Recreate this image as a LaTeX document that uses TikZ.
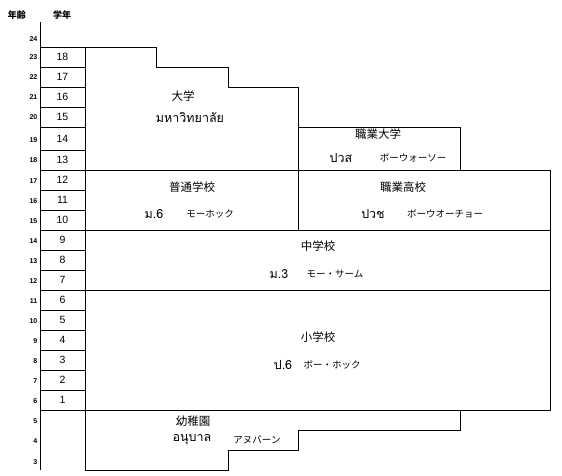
\documentclass[tikz,border=0pt]{standalone}
\usepackage{fontspec}
\setmainfont{Liberation Sans}
\newfontfamily\jpfont{Noto Sans CJK JP}
\newfontfamily\thaifont[Script=Thai]{Loma}
\begin{document}
\begin{tikzpicture}[x=1pt,y=-1pt,
  frame/.style={line width=0.9pt,black},
  age/.style={font=\fontsize{7}{8}\selectfont\bfseries,anchor=east,inner sep=0pt},
  grade/.style={font=\fontsize{10.5}{12}\selectfont,inner sep=0pt},
  head/.style={font=\jpfont\fontsize{9}{10}\selectfont\bfseries,inner sep=0pt},
  jp/.style={font=\jpfont\fontsize{11.5}{12}\selectfont,inner sep=0pt},
  kana/.style={font=\jpfont\fontsize{9.5}{10}\selectfont,inner sep=0pt},
  th/.style={font=\thaifont\fontsize{12.5}{14}\selectfont,inner sep=0pt}]
\useasboundingbox (0,0) rectangle (562,476);
% axis
\draw[frame] (40,22) -- (40,470);
% grade cells
\foreach \a/\b in {47/67,67/87,87/107,107/127,127/150,150/170,170/190,190/210,210/230,230/250,250/270,270/290,290/310,310/330,330/350,350/370,370/390,390/410}
  \draw[frame] (40,\a) rectangle (85,\b);
% university
\draw[frame] (85,47) -- (156,47) -- (156,67) -- (228,67) -- (228,87) -- (298,87) -- (298,170);
% vocational college
\draw[frame] (298,127) -- (460,127) -- (460,170);
% upper secondary and below
\draw[frame] (85,170) -- (550,170) -- (550,410) -- (85,410) -- (85,47);
\draw[frame] (298,170) -- (298,230);
\draw[frame] (85,230) -- (550,230);
\draw[frame] (85,290) -- (550,290);
% kindergarten
\draw[frame] (85,410) -- (85,470) -- (228,470) -- (228,450) -- (298,450) -- (298,430) -- (460,430) -- (460,410);
% headers
\node[head] (hage) at (17,15) {年齢};
\node[head] (hgr) at (62,15) {学年};
% ages
\foreach \n/\y in {24/39,23/57,22/77,21/97,20/117,19/140,18/160,17/181,16/201,15/221,14/241,13/261,12/281,11/301,10/321,9/341,8/361,7/381,6/401,5/421,4/441,3/462}
  \node[age] (age\n) at (37.5,\y) {\n};
% grades
\foreach \n/\y in {18/57,17/77,16/97,15/117,14/139,13/160,12/180,11/200,10/220,9/240,8/260,7/280,6/300,5/320,4/340,3/360,2/380,1/400}
  \node[grade] (g\n) at (62.5,\y) {\n};
% labels
\node[jp] (uni) at (183,96) {大学};
\node[th] (unith) at (190,118) {มหาวิทยาลัย};
\node[jp] (vc) at (378,134) {職業大学};
\node[th] (vcth) at (341,158) {ปวส};
\node[kana] (vckana) at (413,158) {ボーウォーソー};
\node[jp] (hs) at (192,187) {普通学校};
\node[th] (hsth) at (154,214) {ม.6};
\node[kana] (hskana) at (210,214) {モーホック};
\node[jp] (vhs) at (403,187) {職業高校};
\node[th] (vhsth) at (373,214) {ปวช};
\node[kana] (vhskana) at (445,214) {ボーウオーチョー};
\node[jp] (ms) at (318,246) {中学校};
\node[th] (msth) at (279,274) {ม.3};
\node[kana] (mskana) at (335,274) {モー・サーム};
\node[jp] (ps) at (318,337) {小学校};
\node[th] (psth) at (283,365) {ป.6};
\node[kana] (pskana) at (332,365) {ボー・ホック};
\node[jp] (kg) at (193,421) {幼稚園};
\node[th] (kgth) at (192,440) {อนุบาล};
\node[kana] (kgkana) at (257,440) {アヌバーン};
\end{tikzpicture}
\end{document}
